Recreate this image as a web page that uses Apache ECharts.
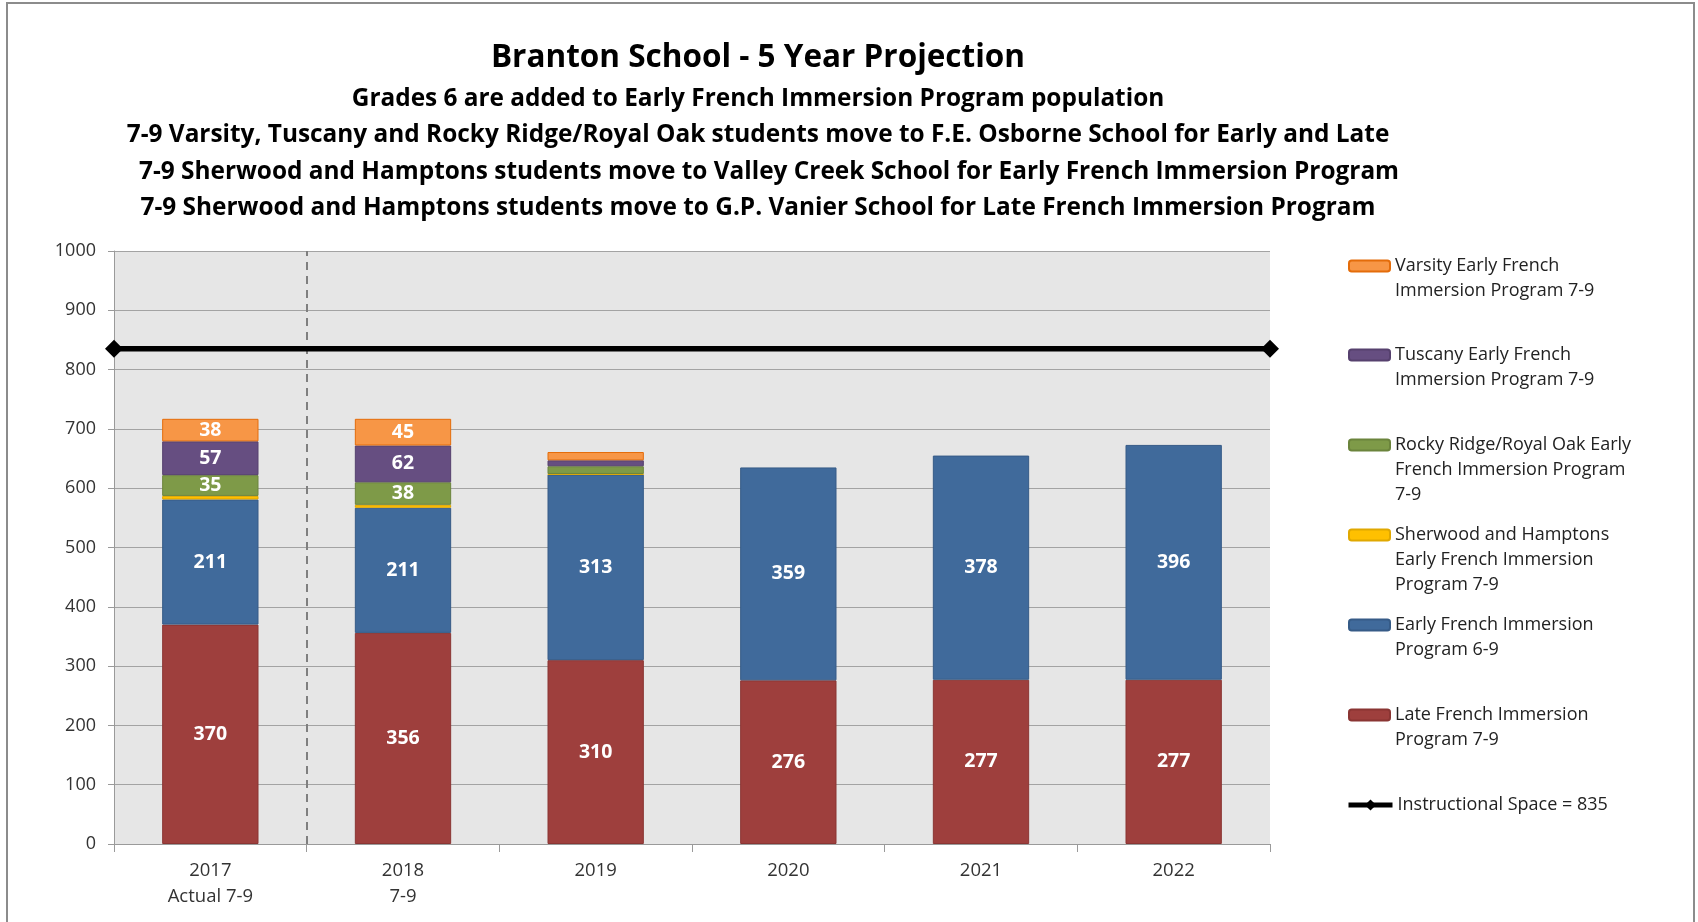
<!DOCTYPE html>
<html>
<head>
<meta charset="utf-8">
<title>Branton School - 5 Year Projection</title>
<script src="https://cdn.jsdelivr.net/npm/echarts@6/dist/echarts.min.js"></script>
<style>
  html, body { margin: 0; padding: 0; background: #fff; }
  #chart { width: 1698px; height: 922px; }
</style>
</head>
<body>
<div id="chart"></div>
<script>
// categories and values
const years = ['2017\nActual 7-9', '2018\n7-9', '2019', '2020', '2021', '2022']
const lateFI = [370, 356, 310, 276, 277, 277]
const earlyFI = [211, 211, 313, 359, 378, 396]
const sherwood = [6, 5, 1, 0, 0, 0]
const rockyRidge = [35, 38, 13, 0, 0, 0]
const tuscany = [57, 62, 10, 0, 0, 0]
const varsity = [38, 45, 14, 0, 0, 0]
const capacity = 835
const yTicks = [0, 1000, 100] // min, max, interval

const FONT = 'Open Sans'
const LINE_H = 25

// stacked bar series, bottom to top
const barDefs = [
  { name: 'Late French Immersion\nProgram 7-9', data: lateFI, color: '#9e3f3d', border: '#8a3533', lines: 2, legendY: 715 },
  { name: 'Early French Immersion\nProgram 6-9', data: earlyFI, color: '#406a9b', border: '#365b87', lines: 2, legendY: 625 },
  { name: 'Sherwood and Hamptons\nEarly French Immersion\nProgram 7-9', data: sherwood, color: '#ffc000', border: '#e0a800', lines: 3, legendY: 535 },
  { name: 'Rocky Ridge/Royal Oak Early\nFrench Immersion Program\n7-9', data: rockyRidge, color: '#7e9a48', border: '#6b843c', lines: 3, legendY: 445 },
  { name: 'Tuscany Early French\nImmersion Program 7-9', data: tuscany, color: '#664e81', border: '#56416e', lines: 2, legendY: 355 },
  { name: 'Varsity Early French\nImmersion Program 7-9', data: varsity, color: '#f79646', border: '#e46c0a', lines: 2, legendY: 266 }
]
const lineName = 'Instructional Space = 835'

const chart = echarts.init(document.getElementById('chart'))

const series = barDefs.map(d => ({
  name: d.name,
  type: 'bar',
  stack: 'total',
  barWidth: '50%',
  data: d.data.map(v => (v === 0 ? '-' : v)),
  itemStyle: { color: d.color, borderColor: d.border, borderWidth: 1 },
  label: {
    show: true,
    position: 'inside',
    color: '#fff',
    fontFamily: FONT,
    fontWeight: 'bold',
    fontSize: 19.5,
    formatter: p => (p.value >= 20 ? p.value : '')
  }
}))

series.push({
  name: lineName,
  type: 'line',
  xAxisIndex: 1,
  data: [[0, capacity], [years.length, capacity]],
  symbol: 'diamond',
  symbolSize: 18,
  clip: false,
  lineStyle: { color: '#000', width: 5.5 },
  itemStyle: { color: '#000' },
  z: 5,
  markLine: {
    silent: true,
    symbol: 'none',
    label: { show: false },
    lineStyle: { color: '#7f7f7f', width: 2, type: [8, 6] },
    data: [{ xAxis: 1 }]
  }
})

// one legend block per item; blank lines on top keep the swatch level with the first text line
const legends = barDefs.map(d => ({
  data: [d.name],
  orient: 'vertical',
  left: 1348,
  top: d.legendY - (2 * d.lines - 1) * LINE_H / 2,
  padding: 0,
  itemWidth: 41,
  itemHeight: 11,
  selectedMode: false,
  formatter: name => '\n'.repeat(d.lines - 1) + name,
  textStyle: { fontFamily: FONT, fontSize: 18, color: '#222', lineHeight: LINE_H }
}))
legends.push({
  data: [lineName],
  left: 1346,
  top: 805 - LINE_H / 2,
  padding: 0,
  itemWidth: 44,
  itemHeight: 14,
  selectedMode: false,
  lineStyle: { width: 5 },
  textStyle: { fontFamily: FONT, fontSize: 18, color: '#222', lineHeight: LINE_H }
})

const titleStyle = (size) => ({ fontFamily: FONT, fontWeight: 'bold', fontSize: size, color: '#000' })

chart.setOption({
  backgroundColor: '#fff',
  animation: false,
  title: [
    { text: 'Branton School - 5 Year Projection', left: 758, top: 42, textAlign: 'center', padding: 0, textStyle: titleStyle(31.5) },
    { text: 'Grades 6 are added to Early French Immersion Program population', left: 758, top: 87, textAlign: 'center', padding: 0, textStyle: titleStyle(24.4) },
    { text: '7-9 Varsity, Tuscany and Rocky Ridge/Royal Oak students move to F.E. Osborne School for Early and Late', left: 758, top: 123, textAlign: 'center', padding: 0, textStyle: titleStyle(24.4) },
    { text: '7-9 Sherwood and Hamptons students move to Valley Creek School for Early French Immersion Program', left: 769, top: 160, textAlign: 'center', padding: 0, textStyle: titleStyle(24.4) },
    { text: '7-9 Sherwood and Hamptons students move to G.P. Vanier School for Late French Immersion Program', left: 758, top: 196, textAlign: 'center', padding: 0, textStyle: titleStyle(24.4) }
  ],
  legend: legends,
  grid: {
    left: 114,
    right: 428,
    top: 251,
    bottom: 78,
    show: true,
    backgroundColor: '#e6e6e6',
    borderWidth: 0
  },
  xAxis: [{
    type: 'category',
    data: years,
    axisLine: { lineStyle: { color: '#9a9a9a', width: 1 } },
    axisTick: { show: true, length: 8, lineStyle: { color: '#9a9a9a' } },
    axisLabel: { color: '#333', fontFamily: FONT, fontSize: 18.5, lineHeight: 26, margin: 14 },
    splitLine: { show: false }
  }, {
    type: 'value',
    min: 0,
    max: years.length,
    show: false
  }],
  yAxis: {
    type: 'value',
    min: yTicks[0],
    max: yTicks[1],
    interval: yTicks[2],
    axisLine: { show: true, lineStyle: { color: '#9a9a9a', width: 1 } },
    axisTick: { show: true, length: 6, lineStyle: { color: '#9a9a9a' } },
    axisLabel: { color: '#333', fontFamily: FONT, fontSize: 18, margin: 18, formatter: v => String(v) },
    splitLine: { lineStyle: { color: '#a3a3a3', width: 1 } }
  },
  graphic: [{
    type: 'rect',
    silent: true,
    shape: { x: 7, y: 3, width: 1687, height: 930 },
    style: { fill: 'none', stroke: '#8c8c8c', lineWidth: 2 }
  }],
  series
})
</script>
</body>
</html>
